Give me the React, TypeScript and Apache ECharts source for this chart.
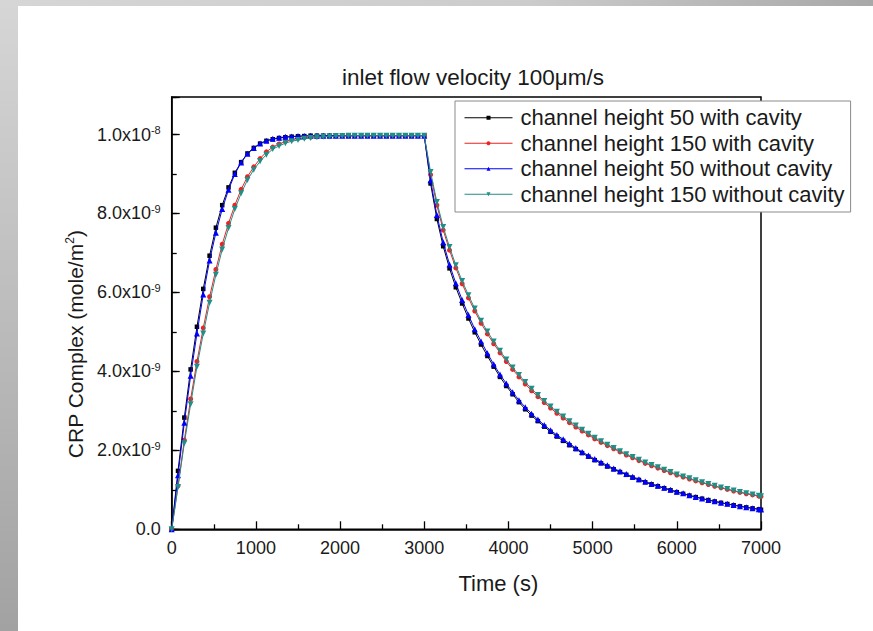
import React, { useEffect, useRef } from "react";
import * as echarts from "echarts";

// Time (s)
const TIME = [
  0, 75, 150, 225, 300, 375, 450, 525, 600, 675, 750, 825, 900, 975, 1050, 1125, 1200, 1275, 1350, 1425,
  1500, 1575, 1650, 1725, 1800, 1875, 1950, 2025, 2100, 2175, 2250, 2325, 2400, 2475, 2550, 2625, 2700, 2775,
  2850, 2925, 3000,
  3075, 3150, 3225, 3300, 3375, 3450, 3525, 3600, 3675, 3750, 3825, 3900, 3975, 4050, 4125, 4200, 4275, 4350,
  4425, 4500, 4575, 4650, 4725, 4800, 4875, 4950, 5025, 5100, 5175, 5250, 5325, 5400, 5475, 5550, 5625, 5700,
  5775, 5850, 5925, 6000, 6075, 6150, 6225, 6300, 6375, 6450, 6525, 6600, 6675, 6750, 6825, 6900, 6975, 7000,
];

// CRP complex, in units of 1e-9 mole/m^2
const H50_WITH_CAVITY = [
  0, 1.48, 2.83, 4.05, 5.13, 6.09, 6.93, 7.64, 8.21, 8.66, 9.03, 9.3, 9.52, 9.66, 9.77, 9.84, 9.88, 9.91, 9.93, 9.945,
  9.955, 9.96, 9.97, 9.97, 9.97, 9.97, 9.97, 9.97, 9.97, 9.97, 9.97, 9.97, 9.97, 9.97, 9.97, 9.97, 9.97, 9.97,
  9.97, 9.97, 9.97,
  8.76, 7.86, 7.17, 6.61, 6.13, 5.72, 5.34, 4.99, 4.68, 4.39,
  4.12, 3.86, 3.63, 3.42, 3.22, 3.04, 2.88, 2.74, 2.6, 2.47,
  2.35, 2.24, 2.13, 2.03, 1.93, 1.84, 1.75, 1.67, 1.59, 1.52,
  1.45, 1.38, 1.31, 1.25, 1.19, 1.14, 1.09, 1.04, 0.99, 0.94,
  0.9, 0.855, 0.815, 0.775, 0.74, 0.705, 0.67, 0.64, 0.61, 0.58,
  0.555, 0.53, 0.505, 0.495,
];

const H150_WITH_CAVITY = [
  0, 1.1, 2.26, 3.3, 4.25, 5.1, 5.89, 6.58, 7.22, 7.75, 8.21, 8.61, 8.93, 9.18, 9.39, 9.56, 9.68, 9.76, 9.82, 9.87,
  9.9, 9.92, 9.935, 9.945, 9.955, 9.96, 9.965, 9.97, 9.97, 9.97, 9.97, 9.97, 9.97, 9.97, 9.97, 9.97, 9.97, 9.97,
  9.97, 9.97, 9.97,
  8.98, 8.21, 7.58, 7.07, 6.62, 6.22, 5.86, 5.53, 5.22, 4.95,
  4.7, 4.47, 4.25, 4.05, 3.86, 3.68, 3.51, 3.36, 3.21, 3.07,
  2.94, 2.82, 2.7, 2.59, 2.49, 2.39, 2.29, 2.2, 2.12, 2.04,
  1.96, 1.88, 1.81, 1.74, 1.67, 1.61, 1.55, 1.49, 1.43, 1.375,
  1.325, 1.275, 1.225, 1.18, 1.135, 1.09, 1.05, 1.01, 0.97, 0.935,
  0.9, 0.87, 0.84, 0.83,
];

const H50_WITHOUT_CAVITY = [
  0, 1.37, 2.7, 3.89, 4.96, 5.95, 6.81, 7.51, 8.11, 8.6, 9.0, 9.29, 9.51, 9.66, 9.77, 9.84, 9.89, 9.92, 9.94, 9.95,
  9.96, 9.965, 9.97, 9.97, 9.97, 9.97, 9.97, 9.97, 9.97, 9.97, 9.97, 9.97, 9.97, 9.97, 9.97, 9.97, 9.97, 9.97,
  9.97, 9.97, 9.97,
  8.84, 7.96, 7.27, 6.71, 6.23, 5.81, 5.43, 5.07, 4.76, 4.46,
  4.18, 3.92, 3.69, 3.47, 3.27, 3.09, 2.93, 2.78, 2.64, 2.51,
  2.39, 2.28, 2.17, 2.06, 1.96, 1.87, 1.78, 1.7, 1.62, 1.54,
  1.47, 1.4, 1.33, 1.27, 1.21, 1.15, 1.1, 1.05, 1.0, 0.95,
  0.91, 0.86, 0.82, 0.78, 0.745, 0.71, 0.675, 0.645, 0.615, 0.585,
  0.56, 0.535, 0.51, 0.5,
];

const H150_WITHOUT_CAVITY = [
  0, 1.07, 2.18, 3.17, 4.12, 4.96, 5.74, 6.45, 7.09, 7.63, 8.11, 8.51, 8.85, 9.11, 9.32, 9.49, 9.63, 9.71, 9.78, 9.83,
  9.86, 9.89, 9.91, 9.93, 9.94, 9.95, 9.96, 9.965, 9.97, 9.97, 9.97, 9.97, 9.97, 9.97, 9.97, 9.97, 9.97, 9.97,
  9.97, 9.97, 9.97,
  9.05, 8.29, 7.66, 7.15, 6.69, 6.29, 5.93, 5.59, 5.28, 5.01,
  4.76, 4.52, 4.3, 4.1, 3.91, 3.73, 3.56, 3.4, 3.25, 3.11,
  2.98, 2.86, 2.74, 2.63, 2.52, 2.42, 2.32, 2.23, 2.14, 2.06,
  1.98, 1.9, 1.83, 1.76, 1.69, 1.63, 1.57, 1.51, 1.45, 1.39,
  1.34, 1.29, 1.24, 1.19, 1.145, 1.1, 1.06, 1.02, 0.98, 0.945,
  0.91, 0.88, 0.85, 0.84,
];

const SERIES_NAMES = [
  "channel height 50 with cavity",
  "channel height 150 with cavity",
  "channel height 50 without cavity",
  "channel height 150 without cavity",
];

const Y_TICKS = [0, 2, 4, 6, 8, 10];
const Y_TICK_MANTISSA = ["0.0", "2.0x10", "4.0x10", "6.0x10", "8.0x10", "1.0x10"];
const Y_TICK_EXPONENT = ["", "-9", "-9", "-9", "-9", "-8"];

const TITLE = "inlet flow velocity 100\u03bcm/s";
const X_TITLE = "Time (s)";

const FONT = "'Liberation Sans', Arial, Helvetica, sans-serif";

export default function App() {
  const ref = useRef<HTMLDivElement>(null);

  useEffect(() => {
    if (!ref.current) return;
    const chart = echarts.init(ref.current, null, { renderer: "svg" });

    const values = [H50_WITH_CAVITY, H150_WITH_CAVITY, H50_WITHOUT_CAVITY, H150_WITHOUT_CAVITY];
    const colors = ["#000000", "#ee2222", "#0000ff", "#1f8f88"];
    const symbols = ["rect", "circle", "triangle", "triangle"];
    const sizes = [4.5, 5, 6, 6];
    const rotates = [0, 0, 0, 180];

    const series: any[] = values.map((arr, k) => ({
      name: SERIES_NAMES[k],
      type: "line",
      data: TIME.map((t, i) => [t, arr[i]]),
      symbol: symbols[k],
      symbolSize: sizes[k],
      symbolRotate: rotates[k],
      showSymbol: true,
      showAllSymbol: true,
      lineStyle: { width: 1, color: colors[k] },
      itemStyle: { color: colors[k] },
      z: 3 + k,
      yAxisIndex: 0,
    }));

    const yLabel = (v: number) => {
      const idx = Y_TICKS.findIndex((t) => Math.abs(t - v) < 1e-6);
      if (idx < 0) return "";
      const m = Y_TICK_MANTISSA[idx];
      const e = Y_TICK_EXPONENT[idx];
      return e ? `{a|${m}}{s|${e}}` : `{a|${m}}`;
    };

    const option: any = {
      animation: false,
      backgroundColor: "#ffffff",
      title: {
        text: TITLE,
        left: 468,
        top: 61,
        textAlign: "center",
        textStyle: { fontFamily: FONT, fontSize: 22.5, fontWeight: "normal", color: "#1a1a1a" },
      },
      graphic: [
        {
          type: "rect",
          shape: { x: 0, y: 0, width: 18, height: 631 },
          style: {
            fill: new echarts.graphic.LinearGradient(0, 0, 0, 1, [
              { offset: 0, color: "#d6d6d6" },
              { offset: 1, color: "#a2a2a2" },
            ]),
          },
          silent: true,
        },
        {
          type: "rect",
          shape: { x: 0, y: 0, width: 873, height: 6 },
          style: {
            fill: new echarts.graphic.LinearGradient(0, 0, 1, 0, [
              { offset: 0, color: "#d6d6d6" },
              { offset: 0.6, color: "#cccccc" },
              { offset: 1, color: "#a8a8a8" },
            ]),
          },
          silent: true,
        },
      ],
      legend: {
        data: SERIES_NAMES,
        orient: "vertical",
        left: 455,
        top: 101,
        itemWidth: 48,
        itemHeight: 5,
        itemGap: 0,
        padding: [4, 6, 5, 9],
        borderColor: "#8a8a8a",
        borderWidth: 1,
        backgroundColor: "#ffffff",
        lineStyle: { width: 1 },
        textStyle: {
          fontFamily: FONT,
          fontSize: 22,
          color: "#1a1a1a",
          lineHeight: 25.5,
          padding: [0, 0, 0, 3],
        },
      },
      grid: {
        left: 171.7,
        right: 112,
        top: 97,
        bottom: 101.7,
        show: true,
        borderColor: "#000",
        borderWidth: 1.5,
        backgroundColor: "transparent",
      },
      xAxis: {
        type: "value",
        min: 0,
        max: 7000,
        interval: 1000,
        name: X_TITLE,
        nameLocation: "middle",
        nameGap: 43,
        nameTextStyle: { fontFamily: FONT, fontSize: 22, color: "#1a1a1a", padding: [0, 0, 0, 64] },
        axisLine: { show: true, lineStyle: { color: "#000", width: 1.5 } },
        axisTick: { show: true, inside: true, length: 8, lineStyle: { color: "#000", width: 1.3 } },
        minorTick: { show: true, splitNumber: 2, length: 5, lineStyle: { color: "#000", width: 1.3 } },
        axisLabel: {
          fontFamily: FONT,
          fontSize: 18,
          color: "#1a1a1a",
          margin: 10,
          formatter: (v: number) => String(v),
        },
        splitLine: { show: false },
      },
      yAxis: [
        {
          type: "value",
          position: "left",
          min: 0,
          max: 10.95,
          interval: 2,
          name: "{a|CRP Complex (mole/m}{s|2}{a|)}",
          nameLocation: "middle",
          nameGap: 82,
          nameRotate: 90,
          nameTextStyle: {
            fontFamily: FONT,
            color: "#1a1a1a",
            padding: [0, 62, 0, 0],
            rich: {
              a: { fontFamily: FONT, fontSize: 21, color: "#1a1a1a", lineHeight: 22 },
              s: { fontFamily: FONT, fontSize: 12, color: "#1a1a1a", verticalAlign: "top", lineHeight: 12 },
            },
          },
          axisLine: { show: true, lineStyle: { color: "#000", width: 1.5 } },
          axisTick: { show: true, inside: true, length: 8, lineStyle: { color: "#000", width: 1.3 } },
          axisLabel: {
            margin: 11,
            formatter: yLabel,
            rich: {
              a: { fontFamily: FONT, fontSize: 18, color: "#1a1a1a", lineHeight: 20 },
              s: { fontFamily: FONT, fontSize: 11, color: "#1a1a1a", verticalAlign: "top", lineHeight: 11 },
            },
          },
          splitLine: { show: false },
        },
        {
          type: "value",
          position: "left",
          offset: 0,
          min: 0,
          max: 10.95,
          interval: 1,
          axisLine: { show: false },
          axisTick: { show: true, inside: true, length: 5, lineStyle: { color: "#000", width: 1.3 } },
          axisLabel: { show: false },
          splitLine: { show: false },
        },
      ],
      series,
    };

    chart.setOption(option);
    return () => chart.dispose();
  }, []);

  return (
    <div
      ref={ref}
      style={{ position: "fixed", left: 0, top: 0, width: 873, height: 631, background: "#fff" }}
    />
  );
}
